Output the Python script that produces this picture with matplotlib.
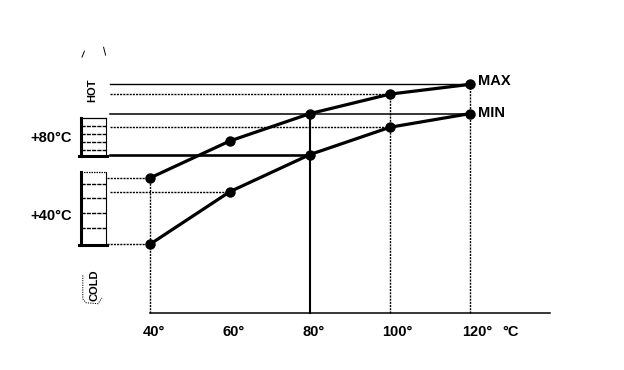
import matplotlib
matplotlib.use("Agg")
import matplotlib.pyplot as plt

# ---- data ----
coolant_temp = [40, 60, 80, 100, 120]          # x values (°C)
max_curve = [59, 78, 92, 102, 107]             # MAX curve
min_curve = [25, 52, 71, 85, 92]               # MIN curve
x_tick_labels = ["40°", "60°", "80°", "100°", "120°"]
x_unit = "°C"
y_labels = ["+80°C", "+40°C"]
y_label_values = [80, 40]
series_names = ["MAX", "MIN"]

plt.rcParams['font.family'] = ['Liberation Sans', 'DejaVu Sans']

fig = plt.figure(figsize=(6.24, 3.70), dpi=100)
ax = fig.add_axes([0, 0, 1, 1])
ax.set_xlim(2.5, 158.5)
ax.set_ylim(-39.49, 150.26)
ax.axis("off")

K = "black"
base_y = -10.3
left_x = 30.0

# baseline
ax.plot([coolant_temp[0], 140], [base_y, base_y], color=K, lw=1.1)

# curves
ax.plot(coolant_temp, max_curve, color=K, lw=2.3, marker="o", ms=6.5, zorder=5)
ax.plot(coolant_temp, min_curve, color=K, lw=2.3, marker="o", ms=6.5, zorder=5)

# reference lines (horizontal)
ax.plot([left_x, coolant_temp[4]], [max_curve[4]] * 2, color=K, lw=1.0)
ax.plot([left_x, coolant_temp[3]], [max_curve[3]] * 2, color=K, lw=1.0, ls=(0, (1.5, 0.8)))
ax.plot([left_x, coolant_temp[4]], [min_curve[4]] * 2, color=K, lw=1.1)
ax.plot([left_x, coolant_temp[3]], [min_curve[3]] * 2, color=K, lw=1.0, ls=(0, (1.5, 0.8)))
ax.plot([left_x, coolant_temp[2]], [min_curve[2]] * 2, color=K, lw=1.9)
ax.plot([left_x - 0.8, coolant_temp[0]], [max_curve[0]] * 2, color=K, lw=1.0, ls=(0, (1.5, 0.8)))
ax.plot([left_x, coolant_temp[1]], [min_curve[1]] * 2, color=K, lw=1.0, ls=(0, (1.5, 0.8)))
ax.plot([left_x - 0.8, coolant_temp[0]], [min_curve[0]] * 2, color=K, lw=1.0, ls=(0, (1.5, 0.8)))

# reference lines (vertical)
ax.plot([coolant_temp[0]] * 2, [base_y, max_curve[0]], color=K, lw=1.0, ls=(0, (1.5, 0.8)))
ax.plot([coolant_temp[2]] * 2, [base_y, max_curve[2]], color=K, lw=1.5)
ax.plot([coolant_temp[3]] * 2, [base_y, max_curve[3]], color=K, lw=1.0, ls=(0, (1.5, 0.8)))
ax.plot([coolant_temp[4]] * 2, [base_y, max_curve[4]], color=K, lw=1.0, ls=(0, (1.5, 0.8)))

# series labels
ax.text(coolant_temp[4] + 2.0, max_curve[4] + 1.5, series_names[0], fontsize=10.5,
        fontweight="bold", ha="left", va="center")
ax.text(coolant_temp[4] + 2.0, min_curve[4] + 0.5, series_names[1], fontsize=10.5,
        fontweight="bold", ha="left", va="center")

# x tick labels
for xv, lab in zip(coolant_temp, x_tick_labels):
    ax.text(xv - 1.9, base_y - 9.5, lab, fontsize=10.5, fontweight="bold",
            ha="left", va="center")
ax.text(128, base_y - 9.5, x_unit, fontsize=10.5, fontweight="bold", ha="left", va="center")

# left scale labels
for yv, lab in zip(y_label_values, y_labels):
    ax.text(20.5, yv - 0.5, lab, fontsize=10.5, fontweight="bold", ha="right", va="center")

# left gauge bars
def gauge(y0, y1, inner, top_dotted):
    xl, xr = 22.8, 29.0
    ax.plot([xl, xl], [y0, y1], color=K, lw=2.2)
    ax.plot([xr, xr], [y0, y1], color=K, lw=0.8)
    ax.plot([xl - 0.5, xr + 0.3], [y0, y0], color=K, lw=2.2)
    ax.plot([xl, xr], [y1, y1], color=K, lw=0.9, ls=(0, (1.2, 0.8)) if top_dotted else "-")
    for yy in inner:
        ax.plot([xl, xr], [yy, yy], color=K, lw=1.0, ls=(0, (3, 0.8)))

gauge(70.5, 89.5, [73.5, 77.5, 81.5, 85.5], False)
gauge(24.5, 62.0, [33.5, 41, 48.5, 56], True)

# HOT / COLD labels
ax.text(25.5, 104, "HOT", fontsize=8, fontweight="bold", rotation=90,
        ha="center", va="center")
ax.text(26.0, 4, "COLD", fontsize=8, fontweight="bold", rotation=90,
        ha="center", va="center")

# faint outline fragments
ax.plot([23.0, 23.6], [121, 124], color=K, lw=0.7)
ax.plot([28.4, 28.9], [126, 122], color=K, lw=0.7)
ax.plot([23.2, 23.2, 24.0, 27.0, 28.0], [9, -3, -5, -5.5, -2.5], color=K, lw=0.7,
        ls=(0, (1.2, 1.2)))

fig.savefig("out.png", dpi=100)
